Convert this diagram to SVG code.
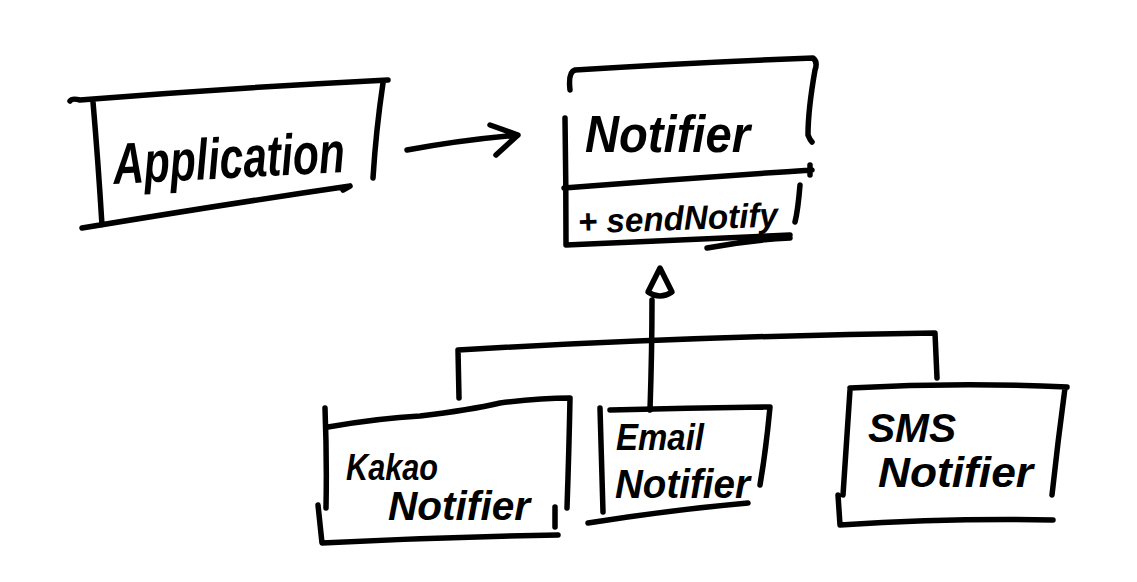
<svg xmlns="http://www.w3.org/2000/svg" width="1137" height="582" viewBox="0 0 1137 582">
<style>
.s{fill:none;stroke:#000;stroke-width:5.5;stroke-linecap:round;stroke-linejoin:round}
.t{font-family:"Liberation Sans",Arial,sans-serif;fill:#000;font-style:italic;font-weight:bold}
</style>
<rect width="1137" height="582" fill="#fff"/>
<g id="application">
<path class="s" d="M70 101 Q72 98 80 100 Q230 88 388 80 M383 83 Q376 130 373 178 M93 102 Q98 160 102 225 M82 228 Q220 205 350 186 M350 186 L343 190"/>
<text class="t" x="113" y="178" font-size="58" textLength="232" lengthAdjust="spacingAndGlyphs" transform="rotate(-3 230 160)">Application</text>
</g>
<g id="notifier">
<path class="s" d="M570 90 Q568 72 575 70 Q700 62 813 58 Q818 62 815 70 Q808 110 808 135 Q810 140 812 142 M565 118 Q566 180 566 245 M564 188 Q690 178 812 170 M810 165 L810 175 M800 185 Q798 210 795 222 M566 245 Q680 240 790 235 M707 248 Q750 240 790 238"/>
<text class="t" x="585" y="152" font-size="52" textLength="165" lengthAdjust="spacingAndGlyphs">Notifier</text>
<text class="t" x="578" y="230" font-size="34" textLength="200" lengthAdjust="spacingAndGlyphs" transform="rotate(-2 680 225)">+ sendNotify</text>
</g>
<g id="connectors">
<path class="s" d="M407 150 Q460 140 518 135 M490 125 L518 135 L496 155"/>
<path class="s" d="M660 268 L648 292 Q660 300 672 292 Z M652 300 Q652 350 650 410"/>
<path class="s" d="M459 398 L458 350 Q700 336 935 333 Q936 355 937 378"/>
</g>
<g id="kakao">
<path class="s" d="M325 408 Q327 460 326 508 M328 427 Q380 418 420 416 Q470 410 500 403 Q540 398 570 398 Q569 450 567 508 M318 505 L322 543 Q440 537 558 535 M555 507 L555 527"/>
<text class="t" x="346" y="480" font-size="36" textLength="92" lengthAdjust="spacingAndGlyphs">Kakao</text>
<text class="t" x="388" y="520" font-size="40" textLength="142" lengthAdjust="spacingAndGlyphs">Notifier</text>
</g>
<g id="email">
<path class="s" d="M600 408 L603 512 M610 410 Q690 408 770 407 Q766 450 760 485 M588 523 Q670 510 748 503"/>
<text class="t" x="616" y="450" font-size="36" textLength="88" lengthAdjust="spacingAndGlyphs">Email</text>
<text class="t" x="615" y="498" font-size="40" textLength="135" lengthAdjust="spacingAndGlyphs">Notifier</text>
</g>
<g id="sms">
<path class="s" d="M850 388 Q960 382 1067 387 M1065 388 Q1058 440 1052 495 M850 390 L843 495 M838 495 L840 525 Q950 518 1053 520"/>
<text class="t" x="868" y="442" font-size="40" textLength="88" lengthAdjust="spacingAndGlyphs">SMS</text>
<text class="t" x="878" y="487" font-size="43" textLength="155" lengthAdjust="spacingAndGlyphs">Notifier</text>
</g>
</svg>
